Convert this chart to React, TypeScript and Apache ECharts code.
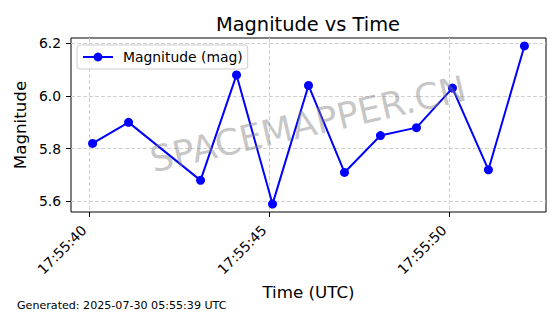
import React, { useEffect, useRef } from "react";
import * as echarts from "echarts";

const times = [
  "17:55:40.080", "17:55:41.080", "17:55:43.080", "17:55:44.080",
  "17:55:45.080", "17:55:46.080", "17:55:47.080", "17:55:48.080",
  "17:55:49.080", "17:55:50.080", "17:55:51.080", "17:55:52.080",
];
const magnitudes = [5.82, 5.90, 5.68, 6.08, 5.59, 6.04, 5.71, 5.85, 5.88, 6.03, 5.72, 6.19];
const xTickLabels = ["17:55:40", "17:55:45", "17:55:50"];
const yTickLabels = ["5.6", "5.8", "6.0", "6.2"];
const seriesName = "Magnitude (mag)";
const titleText = "Magnitude vs Time";
const xAxisTitle = "Time (UTC)";
const yAxisTitle = "Magnitude";
const watermarkText = "SPACEMAPPER.CN";
const footerText = "Generated: 2025-07-30 05:55:39 UTC";

const FONT = "'DejaVu Sans', 'Liberation Sans', sans-serif";

function toSec(t: string): number {
  const [h, m, s] = t.split(":");
  return Number(h) * 3600 + Number(m) * 60 + parseFloat(s);
}
function pad(n: number) {
  return (n < 10 ? "0" : "") + n;
}
function fmtSec(v: number): string {
  const r = Math.round(v);
  const h = Math.floor(r / 3600);
  const m = Math.floor((r % 3600) / 60);
  const s = r % 60;
  return `${pad(h)}:${pad(m)}:${pad(s)}`;
}

export default function App() {
  const ref = useRef<HTMLDivElement>(null);
  useEffect(() => {
    if (!ref.current) return;
    const chart = echarts.init(ref.current, null, { renderer: "svg" });
    const xs = times.map(toSec);
    const xMinD = Math.min(...xs), xMaxD = Math.max(...xs);
    const yMinD = Math.min(...magnitudes), yMaxD = Math.max(...magnitudes);
    const xm = (xMaxD - xMinD) * 0.05;
    const ym = (yMaxD - yMinD) * 0.05;
    const xTicks = xTickLabels.map(toSec);
    const yTicks = yTickLabels.map(Number);
    const gridLine = { show: true, lineStyle: { color: "#d0d0d0", width: 1, type: [4, 2] as any } };

    chart.setOption({
      animation: false,
      backgroundColor: "#fff",
      textStyle: { fontFamily: FONT },
      grid: {
        left: 71, top: 38, width: 475, height: 174,
        show: true, borderColor: "#000", borderWidth: 1, backgroundColor: "transparent",
      },
      legend: {
        data: [seriesName],
        left: 77, top: 45,
        padding: [5, 5, 5, 5],
        itemWidth: 30, itemHeight: 11,
        backgroundColor: "rgba(255,255,255,0.8)",
        borderColor: "#cccccc", borderWidth: 1, borderRadius: 3,
        textStyle: { fontFamily: FONT, fontSize: 13.9, color: "#000", padding: [0, 0, 0, 5] },
      },
      xAxis: {
        type: "value",
        min: xMinD - xm, max: xMaxD + xm,
        splitNumber: 3,
        name: xAxisTitle, nameLocation: "middle", nameGap: 63,
        nameTextStyle: { fontFamily: FONT, fontSize: 16.7, color: "#000" },
        axisLine: { show: false },
        axisTick: { show: true, customValues: xTicks, length: 5, lineStyle: { color: "#000", width: 1 } },
        axisLabel: {
          customValues: xTicks, rotate: 45, margin: 10, padding: [0, 8, 0, 0],
          fontFamily: FONT, fontSize: 13.9, color: "#000",
          formatter: (v: number) => fmtSec(v),
        },
        splitLine: gridLine,
      },
      yAxis: {
        type: "value",
        min: yMinD - ym, max: yMaxD + ym,
        splitNumber: 3,
        name: yAxisTitle, nameLocation: "middle", nameGap: 34, nameRotate: 90,
        nameTextStyle: { fontFamily: FONT, fontSize: 16.7, color: "#000" },
        axisLine: { show: false },
        axisTick: { show: true, customValues: yTicks, length: 5, lineStyle: { color: "#000", width: 1 } },
        axisLabel: {
          customValues: yTicks, margin: 10,
          fontFamily: FONT, fontSize: 13.9, color: "#000",
          formatter: (v: number) => v.toFixed(1),
        },
        splitLine: gridLine,
      },
      graphic: [
        {
          type: "text", x: 308, y: 24, z: 10,
          style: { text: titleText, fontFamily: FONT, fontSize: 19.4, fill: "#000", align: "center", verticalAlign: "middle" },
        },
        {
          type: "text", x: 17, y: 305, z: 10,
          style: { text: footerText, fontFamily: FONT, fontSize: 11.1, fill: "#000", align: "left", verticalAlign: "middle" },
        },
        {
          type: "text", x: 308, y: 124, z: 100, rotation: (13 * Math.PI) / 180,
          style: { text: watermarkText, fontFamily: FONT, fontSize: 36, fill: "rgba(128,128,128,0.45)", align: "center", verticalAlign: "middle" },
        },
      ],
      series: [
        {
          name: seriesName,
          type: "line",
          data: xs.map((x, i) => [x, magnitudes[i]]),
          symbol: "circle",
          symbolSize: 9,
          lineStyle: { color: "#0000ff", width: 2 },
          itemStyle: { color: "#0000ff" },
        },
      ],
    });
    return () => chart.dispose();
  }, []);
  return <div ref={ref} style={{ position: "absolute", left: 0, top: 0, width: 560, height: 314 }} />;
}
